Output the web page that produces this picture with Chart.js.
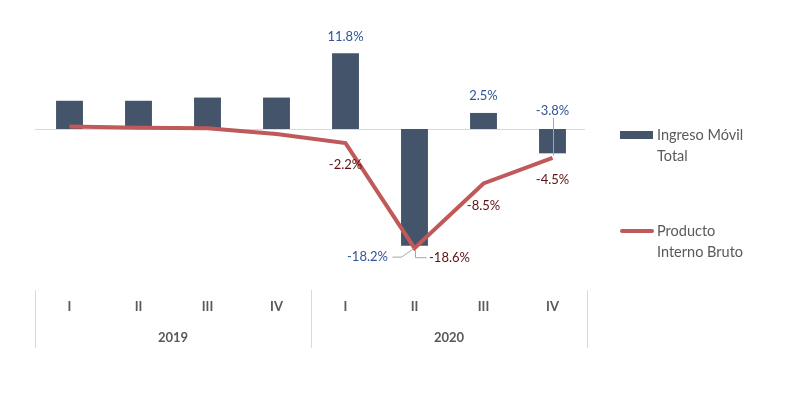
<!DOCTYPE html>
<html>
<head>
<meta charset="utf-8">
<script src="https://cdn.jsdelivr.net/npm/chart.js@4.4.1/dist/chart.umd.min.js"></script>
<style>
  html, body { margin: 0; padding: 0; background: #fff; }
  #wrap { position: relative; width: 786px; height: 395px; }
  .legend { position: absolute; left: 620px; font-family: Lato, sans-serif; font-size: 14.5px; color: #595959; line-height: 21px; }
  .legend .sw { position: absolute; left: 0; }
  .legend .txt { position: absolute; left: 37px; top: 0; white-space: nowrap; }
</style>
</head>
<body>
<div id="wrap">
  <canvas id="chart" width="786" height="395"></canvas>
  <div class="legend" id="legBar" style="top:124px;">
    <div class="sw" style="top:7px;width:33px;height:8px;background:#44546A;"></div>
    <div class="txt">Ingreso Móvil<br>Total</div>
  </div>
  <div class="legend" id="legLine" style="top:220px;">
    <div class="sw" style="top:9px;left:0;width:34px;height:4px;border-radius:2px;background:#C0595A;"></div>
    <div class="txt">Producto<br>Interno Bruto</div>
  </div>
</div>
<script>
const quarters = ["I", "II", "III", "IV", "I", "II", "III", "IV"];
const years = ["2019", "2020"];
const ingresoMovil = [4.4, 4.4, 4.9, 4.9, 11.8, -18.2, 2.5, -3.8];
const pib = [0.4, 0.2, 0.1, -0.8, -2.2, -18.6, -8.5, -4.5];
// only these points carry a data label
const barLabelIdx = [4, 5, 6, 7];
const lineLabelIdx = [4, 5, 6, 7];

const fmt = v => v.toFixed(1) + "%";

const customDraw = {
  id: "customDraw",
  beforeDatasetsDraw(chart) {
    const { ctx, chartArea, scales: { x, y } } = chart;
    const y0 = y.getPixelForValue(0);
    ctx.save();
    ctx.strokeStyle = "#D9D9D9";
    ctx.lineWidth = 1;
    ctx.beginPath();
    ctx.moveTo(chartArea.left, Math.round(y0) + 0.5);
    ctx.lineTo(chartArea.right - 2, Math.round(y0) + 0.5);
    ctx.stroke();

    // category axis with year groups
    const step = x.getPixelForValue(1) - x.getPixelForValue(0);
    const top = chartArea.bottom + 20, bottom = chartArea.bottom + 78;
    const bounds = [x.getPixelForValue(0) - step / 2, x.getPixelForValue(3) + step / 2, x.getPixelForValue(7) + step / 2];
    ctx.strokeStyle = "#D9D9D9";
    bounds.forEach(b => {
      ctx.beginPath();
      ctx.moveTo(Math.round(b) + 0.5, top);
      ctx.lineTo(Math.round(b) + 0.5, bottom);
      ctx.stroke();
    });
    ctx.fillStyle = "#595959";
    ctx.font = "bold 13px Lato, sans-serif";
    ctx.textAlign = "center";
    ctx.textBaseline = "middle";
    quarters.forEach((q, i) => ctx.fillText(q, x.getPixelForValue(i), top + 17));
    years.forEach((yr, g) => ctx.fillText(yr, (bounds[g] + bounds[g + 1]) / 2, top + 48));
    ctx.restore();
  },
  afterDatasetsDraw(chart) {
    const { ctx } = chart;
    const bars = chart.getDatasetMeta(0).data;
    const pts = chart.getDatasetMeta(1).data;
    const y0 = chart.scales.y.getPixelForValue(0);
    ctx.save();
    ctx.font = "13px Lato, sans-serif";
    ctx.textAlign = "center";
    ctx.textBaseline = "middle";
    ctx.strokeStyle = "#A6A6A6";
    ctx.lineWidth = 1;

    barLabelIdx.forEach(i => {
      const b = bars[i], v = ingresoMovil[i];
      ctx.fillStyle = "#2F5597";
      if (i === 5) {
        // leader to the left of the bar end
        ctx.fillText(fmt(v), b.x - 47, b.y + 11);
        ctx.beginPath();
        ctx.moveTo(b.x - 22, b.y + 11.5);
        ctx.lineTo(b.x - 13, b.y + 11.5);
        ctx.lineTo(b.x - 1, b.y + 3);
        ctx.stroke();
      } else if (v < 0) {
        ctx.fillText(fmt(v), b.x, y0 - 18);
        ctx.beginPath();
        ctx.moveTo(Math.round(b.x) + 0.5, y0 - 11);
        ctx.lineTo(Math.round(b.x) + 0.5, b.y + 2);
        ctx.stroke();
      } else {
        ctx.fillText(fmt(v), b.x, b.y - 17);
      }
    });

    lineLabelIdx.forEach(i => {
      const p = pts[i], v = pib[i];
      ctx.fillStyle = "#5E1010";
      if (i === 5) {
        ctx.fillText(fmt(v), p.x + 35, p.y + 10);
        ctx.beginPath();
        ctx.moveTo(Math.round(p.x) + 0.5, p.y + 2);
        ctx.lineTo(Math.round(p.x) + 0.5, p.y + 9.5);
        ctx.lineTo(p.x + 12, p.y + 9.5);
        ctx.stroke();
      } else {
        ctx.fillText(fmt(v), p.x, p.y + 22);
      }
    });
    ctx.restore();
  }
};

new Chart(document.getElementById("chart"), {
  type: "bar",
  data: {
    labels: quarters.map((q, i) => q + " " + years[Math.floor(i / 4)]),
    datasets: [
      {
        type: "bar",
        label: "Ingreso Móvil Total",
        data: ingresoMovil,
        backgroundColor: "#44546A",
        categoryPercentage: 1,
        barPercentage: 0.39,
        order: 1,
      },
      {
        type: "line",
        label: "Producto Interno Bruto",
        data: pib,
        borderColor: "#C0595A",
        borderWidth: 4,
        pointRadius: 0,
        tension: 0,
        order: 0,
      },
    ],
  },
  options: {
    responsive: false,
    animation: false,
    layout: { padding: { left: 35, right: 199, top: 20, bottom: 125 } },
    scales: {
      x: { display: false, offset: true },
      y: { display: false, min: -22, max: 17 },
    },
    plugins: { legend: { display: false }, tooltip: { enabled: false } },
  },
  plugins: [customDraw],
});
</script>
</body>
</html>
